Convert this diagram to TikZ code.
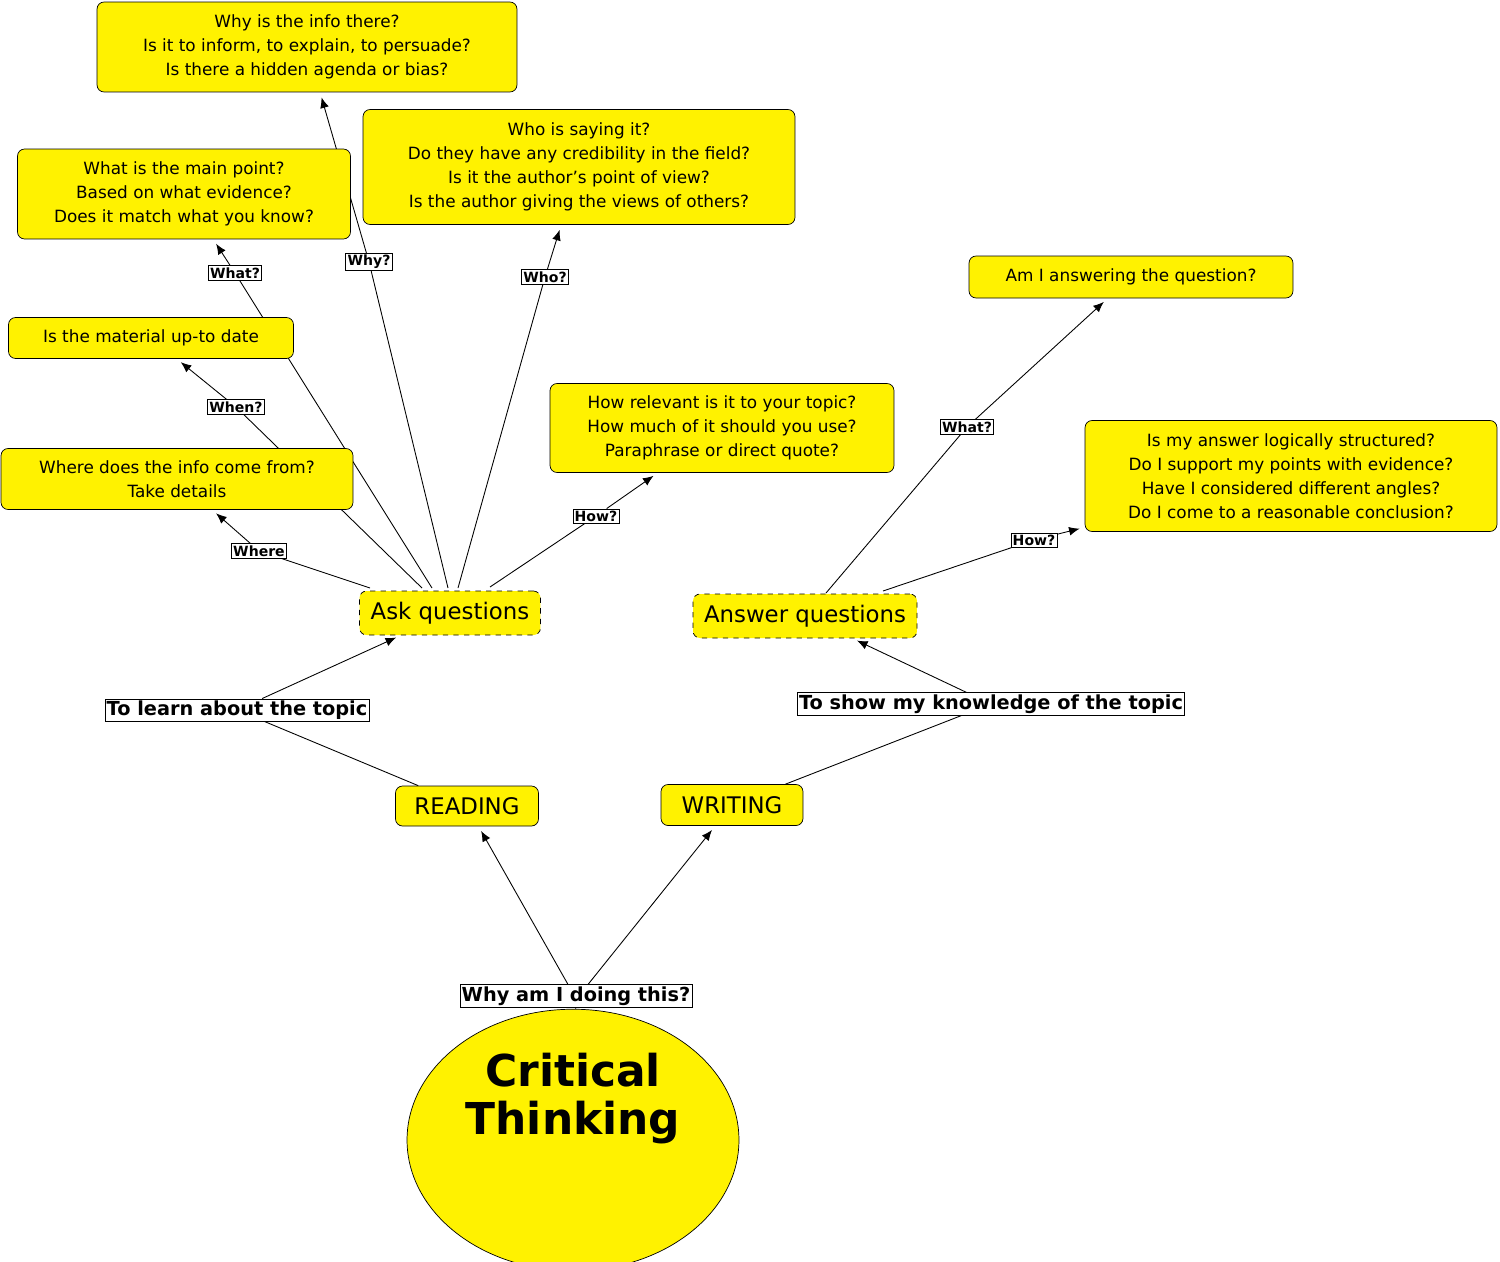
\documentclass[tikz,border=0pt]{standalone}
\usepackage{fontspec}
\setmainfont{DejaVu Sans}
\usetikzlibrary{backgrounds,arrows.meta,shapes.geometric}
\begin{document}
\begin{tikzpicture}[x=0.02cm,y=-0.02cm,
  box/.style={draw=black,fill=yellow,rounded corners=4pt,align=center,inner sep=2pt,
    font=\fontsize{9.6pt}{13.6pt}\selectfont},
  big/.style={draw=black,fill=yellow,rounded corners=4pt,align=center,inner sep=2pt,
    font=\fontsize{13pt}{15pt}\selectfont},
  lab/.style={draw=black,fill=white,inner sep=1pt,font=\bfseries\fontsize{8pt}{9pt}\selectfont},
  blab/.style={draw=black,fill=white,inner sep=1pt,font=\bfseries\fontsize{11pt}{12pt}\selectfont},
  con/.style={draw=black,line width=0.5pt},
  arr/.style={con,-{Latex[length=6pt,width=5pt]},shorten >=3pt}]
\useasboundingbox (0,0) rectangle (1500,1261);
\node[box,minimum width=8.4cm,minimum height=1.8cm] (n1) at (307,47) {Why is the info there?\\Is it to inform, to explain, to persuade?\\Is there a hidden agenda or bias?};
\node[box,minimum width=8.64cm,minimum height=2.3cm] (n2) at (579,167) {Who is saying it?\\Do they have any credibility in the field?\\Is it the author's point of view?\\Is the author giving the views of others?};
\node[box,minimum width=6.66cm,minimum height=1.8cm] (n3) at (184,194) {What is the main point?\\Based on what evidence?\\Does it match what you know?};
\node[box,minimum width=5.7cm,minimum height=0.82cm] (n4) at (151,338) {Is the material up-to date};
\node[box,minimum width=7.04cm,minimum height=1.22cm] (n5) at (177,479) {Where does the info come from?\\Take details};
\node[box,minimum width=6.88cm,minimum height=1.78cm] (n6) at (722,428) {How relevant is it to your topic?\\How much of it should you use?\\Paraphrase or direct quote?};
\node[box,minimum width=6.48cm,minimum height=0.84cm] (n7) at (1131,277) {Am I answering the question?};
\node[box,minimum width=8.24cm,minimum height=2.22cm] (n8) at (1291,476) {Is my answer logically structured?\\Do I support my points with evidence?\\Have I considered different angles?\\Do I come to a reasonable conclusion?};
\node[big,dashed,minimum width=3.62cm,minimum height=0.88cm] (ask) at (450,613) {Ask questions};
\node[big,dashed,minimum width=4.48cm,minimum height=0.88cm] (ans) at (805,616) {Answer questions};
\node[big,minimum width=2.86cm,minimum height=0.8cm] (read) at (467,806) {READING};
\node[big,minimum width=2.84cm,minimum height=0.82cm] (write) at (732,805) {WRITING};
\node[draw=black,fill=yellow,ellipse,minimum width=6.64cm,minimum height=4.72cm,align=center,
  font=\bfseries\fontsize{25pt}{27pt}\selectfont] (ct) at (573,1140) {Critical\\Thinking\\[0.9cm]};
\node[blab] (why) at (576,996) {Why am I doing this?};
\node[blab] (learn) at (237,710) {To learn about the topic};
\node[blab] (show) at (991,704) {To show my knowledge of the topic};
\node[lab] (lwhat) at (235,273) {What?};
\node[lab] (lwhy) at (369,262) {Why?};
\node[lab] (lwho) at (545,277) {Who?};
\node[lab] (lwhen) at (236,407) {When?};
\node[lab] (lwhere) at (259,551) {Where};
\node[lab] (lhow) at (596,516) {How?};
\node[lab] (rwhat) at (967,427) {What?};
\node[lab] (rhow) at (1034,540) {How?};
\coordinate (a1) at (370,588); \coordinate (a2) at (422,588); \coordinate (a3) at (432,588);
\coordinate (a4) at (448,588); \coordinate (a5) at (458,588); \coordinate (a6) at (490,587);
\coordinate (b1) at (826,593); \coordinate (b2) at (883,591);
\begin{scope}[on background layer]
\draw[con] (ct) -- (why);
\draw[arr] ([xshift=-0.16cm]why.north) -- (read);
\draw[arr] ([xshift=0.24cm]why.north) -- (write);
\draw[con] (read) -- (learn);
\draw[arr] (learn) -- (ask);
\draw[con] (write) -- (show);
\draw[arr] (show) -- (ans);
\draw[con] (a1) -- (lwhere); \draw[arr] (lwhere) -- (n5);
\draw[con] (a2) -- (lwhen); \draw[arr] (lwhen) -- (n4);
\draw[con] (a3) -- (lwhat); \draw[arr] (lwhat) -- (n3);
\draw[con] (a4) -- (lwhy); \draw[arr] (lwhy) -- (n1);
\draw[con] (a5) -- (lwho); \draw[arr] (lwho) -- (n2);
\draw[con] (a6) -- (lhow); \draw[arr] (lhow) -- (n6);
\draw[con] (b1) -- (rwhat); \draw[arr] (rwhat) -- (n7);
\draw[con] (b2) -- (rhow); \draw[arr] (rhow) -- (n8);
\end{scope}
\end{tikzpicture}
\end{document}
